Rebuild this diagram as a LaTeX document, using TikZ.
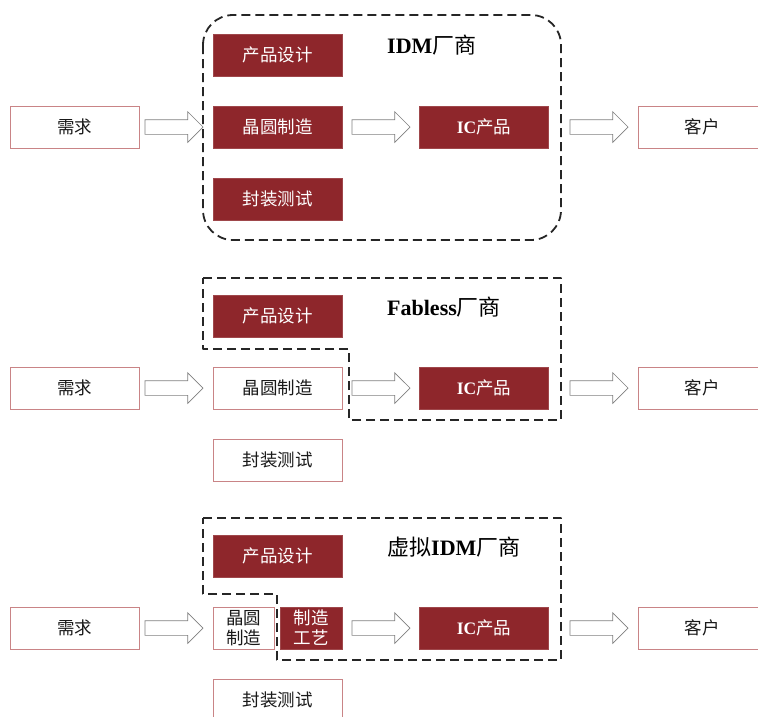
\documentclass[tikz,border=0pt]{standalone}
\usepackage{fontspec}
\setmainfont{Liberation Serif}
\newfontfamily\cjk{Noto Sans CJK SC}
\usetikzlibrary{shapes.arrows}
\definecolor{boxred}{HTML}{8E262B}
\definecolor{lineRed}{HTML}{C98486}
\definecolor{arrgray}{HTML}{808080}
\tikzset{
  basebox/.style={minimum width=129pt, minimum height=42pt, inner sep=0pt, outer sep=0pt, line width=0.8pt,
    font=\cjk\fontsize{17.5}{21}\selectfont, align=center},
  redbox/.style={basebox, fill=boxred, draw=boxred!85!white, text=white},
  whitebox/.style={basebox, fill=white, draw=lineRed, text=black!90},
  blockarrow/.style={single arrow, draw=arrgray, fill=white, line width=0.7pt, anchor=tip,
    minimum height=58pt, single arrow head extend=8pt, inner xsep=0pt, inner ysep=7pt, outer sep=0pt},
  frameline/.style={draw=black!85, line width=1.8pt, dash pattern=on 9pt off 5pt, line join=round},
  title/.style={anchor=west, inner sep=0pt, font=\fontsize{22}{25}\selectfont}
}
\newcommand{\lat}[1]{{\rmfamily\bfseries #1}}
\begin{document}
\begin{tikzpicture}[x=1pt,y=-1pt]
\useasboundingbox (0,0) rectangle (758,716);
\clip (0,0) rectangle (758,716);
\fill[white] (0,0) rectangle (758,716);

% ---------- Section 1: IDM ----------
\draw[frameline, rounded corners=30pt] (203,15) rectangle (561,240);
\node[title] (t1) at (387,45) {\lat{IDM}{\cjk 厂商}};
\node[whitebox] (need1) at (74.5,127) {需求};
\node[redbox] (des1) at (277.5,55) {产品设计};
\node[redbox] (fab1) at (277.5,127) {晶圆制造};
\node[redbox] (pkg1) at (277.5,199) {封装测试};
\node[redbox] (ic1) at (484,127) {\lat{IC}{\cjk 产品}};
\node[whitebox, minimum width=128pt] (cus1) at (702,127) {客户};
\node[blockarrow] (a11) at (203,127) {};
\node[blockarrow] (a12) at (410,127) {};
\node[blockarrow] (a13) at (628,127) {};

% ---------- Section 2: Fabless ----------
\draw[frameline] (203,278) -- (561,278) -- (561,420) -- (349,420) -- (349,349) -- (203,349) -- cycle;
\node[title] (t2) at (387,307) {\lat{Fabless}{\cjk 厂商}};
\node[whitebox] (need2) at (74.5,388) {需求};
\node[redbox] (des2) at (277.5,316) {产品设计};
\node[whitebox] (fab2) at (277.5,388) {晶圆制造};
\node[whitebox] (pkg2) at (277.5,460) {封装测试};
\node[redbox] (ic2) at (484,388) {\lat{IC}{\cjk 产品}};
\node[whitebox, minimum width=128pt] (cus2) at (702,388) {客户};
\node[blockarrow] (a21) at (203,388) {};
\node[blockarrow] (a22) at (410,388) {};
\node[blockarrow] (a23) at (628,388) {};

% ---------- Section 3: virtual IDM ----------
\draw[frameline] (203,518) -- (561,518) -- (561,660) -- (277,660) -- (277,594) -- (203,594) -- cycle;
\node[title] (t3) at (387,547) {{\cjk 虚拟}\lat{IDM}{\cjk 厂商}};
\node[whitebox] (need3) at (74.5,628) {需求};
\node[redbox] (des3) at (277.5,556) {产品设计};
\node[whitebox, minimum width=61pt, font=\cjk\fontsize{17.5}{20}\selectfont] (fab3) at (243.5,628) {晶圆\\制造};
\node[redbox, minimum width=62pt, font=\cjk\fontsize{17.5}{20}\selectfont] (proc3) at (311,628) {制造\\工艺};
\node[whitebox] (pkg3) at (277.5,700) {封装测试};
\node[redbox] (ic3) at (484,628) {\lat{IC}{\cjk 产品}};
\node[whitebox, minimum width=128pt] (cus3) at (702,628) {客户};
\node[blockarrow] (a31) at (203,628) {};
\node[blockarrow] (a32) at (410,628) {};
\node[blockarrow] (a33) at (628,628) {};
\end{tikzpicture}
\end{document}
